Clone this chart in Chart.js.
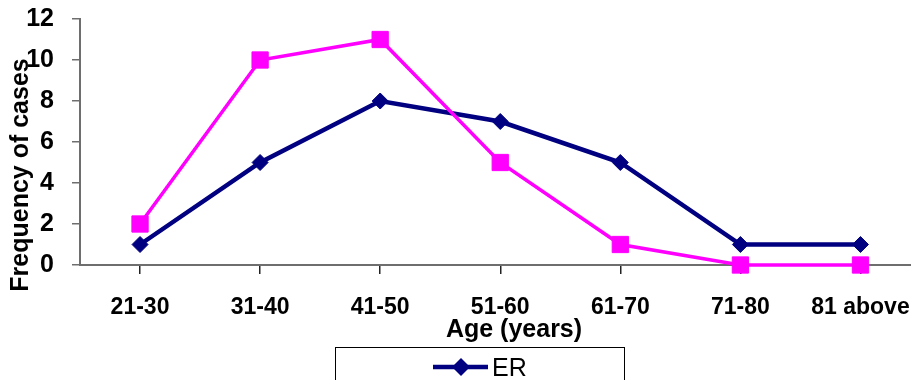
<!DOCTYPE html>
<html>
<head>
<meta charset="utf-8">
<script src="https://cdn.jsdelivr.net/npm/chart.js@4"></script>
<style>
  html, body { margin: 0; padding: 0; background: #fff; overflow: hidden; }
  /* plot runs past the right edge in the original, so the canvas is wider than the window */
  #wrap { width: 933px; height: 380px; position: relative; }
</style>
</head>
<body>
<div id="wrap"><canvas id="chart"></canvas></div>
<script>
// age groups and case counts
const ageGroups = ['21-30', '31-40', '41-50', '51-60', '61-70', '71-80', '81 above'];
const erCases = [1, 5, 8, 7, 5, 1, 1];
const prCases = [2, 10, 11, 5, 1, 0, 0];
const yTicks = [0, 2, 4, 6, 8, 10, 12];

const NAVY = '#000080';
const MAGENTA = '#FF00FF';
const AXIS = '#6e6e6e';

// axis titles and the boxed legend, drawn like the Excel original
const decorations = {
    id: 'decorations',
    afterDraw(chart) {
        const ctx = chart.ctx;
        ctx.save();
        ctx.fillStyle = '#000';

        // y title, rotated
        ctx.font = 'bold 25px "Liberation Sans", Arial, sans-serif';
        ctx.textAlign = 'center';
        ctx.textBaseline = 'alphabetic';
        ctx.translate(28, 175);
        ctx.rotate(-Math.PI / 2);
        ctx.fillText('Frequency of cases', 0, 0);
        ctx.setTransform(1, 0, 0, 1, 0, 0);

        // x title
        ctx.fillText('Age (years)', 514, 337);

        // legend box (runs off the bottom edge)
        ctx.strokeStyle = '#000';
        ctx.lineWidth = 1;
        ctx.strokeRect(335.5, 347.5, 289, 80);

        const ds = chart.data.datasets[0];
        ctx.strokeStyle = ds.borderColor;
        ctx.lineWidth = 4.5;
        ctx.beginPath();
        ctx.moveTo(433, 367);
        ctx.lineTo(488, 367);
        ctx.stroke();
        ctx.fillStyle = ds.borderColor;
        ctx.beginPath();
        ctx.moveTo(461, 358);
        ctx.lineTo(470, 367);
        ctx.lineTo(461, 376);
        ctx.lineTo(452, 367);
        ctx.closePath();
        ctx.fill();

        ctx.fillStyle = '#000';
        ctx.font = '25px "Liberation Sans", Arial, sans-serif';
        ctx.textAlign = 'left';
        ctx.fillText(ds.label, 492, 376);
        ctx.restore();
    }
};

new Chart(document.getElementById('chart'), {
    type: 'line',
    data: {
        labels: ageGroups,
        datasets: [
            {
                label: 'ER',
                data: erCases,
                borderColor: NAVY,
                backgroundColor: NAVY,
                borderWidth: 4.5,
                pointStyle: 'rectRot',
                pointRadius: 8,
                pointBorderWidth: 1,
                pointBackgroundColor: NAVY,
                tension: 0,
                order: 1,
                clip: false
            },
            {
                label: 'PR',
                data: prCases,
                borderColor: MAGENTA,
                backgroundColor: MAGENTA,
                borderWidth: 3.5,
                pointStyle: 'rect',
                pointRadius: 11.5,
                pointBorderWidth: 1,
                pointBackgroundColor: MAGENTA,
                tension: 0,
                order: 0,
                clip: false
            }
        ]
    },
    options: {
        responsive: true,
        maintainAspectRatio: false,
        animation: false,
        layout: { padding: { top: 19, right: 0, left: 0, bottom: 0 } },
        plugins: {
            legend: { display: false },
            tooltip: { enabled: false }
        },
        scales: {
            x: {
                offset: true,
                afterFit: (s) => { s.height = 115; s.paddingLeft = 0; s.paddingRight = 0; },
                grid: { drawOnChartArea: false, drawTicks: true, tickLength: 9, color: '#222', lineWidth: 1.5 },
                border: { color: AXIS, width: 2 },
                ticks: {
                    color: '#000',
                    padding: 20,
                    maxRotation: 0,
                    autoSkip: false,
                    font: { family: '"Liberation Sans", Arial, sans-serif', size: 23, weight: 'bold' }
                }
            },
            y: {
                min: 0,
                max: 12,
                afterFit: (s) => { s.width = 80; s.paddingTop = 0; s.paddingBottom = 0; },
                afterBuildTicks: (s) => { s.ticks = yTicks.map(v => ({ value: v })); },
                grid: { drawOnChartArea: false, drawTicks: true, tickLength: 8, color: AXIS, lineWidth: 1.5 },
                border: { color: AXIS, width: 2 },
                ticks: {
                    color: '#000',
                    padding: 18,
                    font: { family: '"Liberation Sans", Arial, sans-serif', size: 25, weight: 'bold' }
                }
            }
        }
    },
    plugins: [decorations]
});
</script>
</body>
</html>
